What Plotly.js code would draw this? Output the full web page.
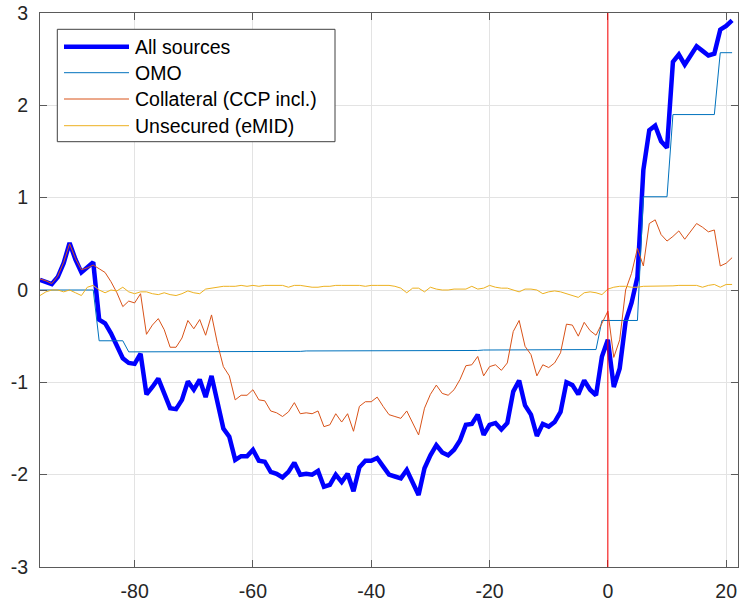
<!DOCTYPE html>
<html>
<head>
<meta charset="utf-8">
<script src="https://cdn.plot.ly/plotly-3.0.1.min.js"></script>
<style>
  html, body { margin: 0; padding: 0; background: #fff; }
  #chart { width: 740px; height: 605px; }
</style>
</head>
<body>
<div id="chart"></div>
<script>
// Days relative to the event (day 0), one observation per day
const days = [];
for (let d = -96; d <= 21; d++) days.push(d);

// Series names, in drawing / legend order
const seriesNames = ['All sources', 'OMO', 'Collateral (CCP incl.)', 'Unsecured (eMID)'];

const allSources = [
  0.11, 0.09, 0.065, 0.14, 0.29, 0.51, 0.33, 0.19, 0.25, 0.30,
  -0.32, -0.36, -0.47, -0.60, -0.74, -0.79, -0.80, -0.69, -1.13, -1.05,
  -0.96, -1.12, -1.28, -1.29, -1.19, -0.99, -1.08, -0.97, -1.16, -0.93,
  -1.23, -1.50, -1.59, -1.84, -1.80, -1.80, -1.73, -1.85, -1.86, -1.97,
  -1.99, -2.03, -1.97, -1.87, -2.00, -1.99, -2.00, -1.96, -2.13, -2.11,
  -2.00, -2.08, -1.99, -2.18, -1.92, -1.85, -1.85, -1.82, -1.91, -2.00,
  -2.02, -2.04, -1.95, -2.08, -2.22, -1.93, -1.79, -1.68, -1.76, -1.79,
  -1.73, -1.63, -1.46, -1.45, -1.35, -1.57, -1.46, -1.44, -1.51, -1.44,
  -1.10, -0.98, -1.25, -1.35, -1.58, -1.45, -1.48, -1.43, -1.32, -1.00,
  -1.03, -1.13, -0.98, -1.08, -1.14, -0.72, -0.54, -1.05, -0.85, -0.34,
  -0.14, 0.14, 1.30, 1.73, 1.78, 1.61, 1.54, 2.47, 2.55, 2.44,
  2.53, 2.64, 2.59, 2.54, 2.56, 2.82, 2.86, 2.92
];

const omo = [
  0, 0, 0, 0, 0, 0, 0, 0, 0, 0,
  -0.55, -0.55, -0.55, -0.55, -0.55,
  -0.67, -0.67, -0.67, -0.67, -0.67, -0.67, -0.67, -0.67, -0.67, -0.67,
  -0.67, -0.67, -0.67, -0.67, -0.67, -0.67, -0.67, -0.67, -0.67, -0.67,
  -0.67, -0.667, -0.665, -0.665, -0.665, -0.665, -0.665, -0.665, -0.665, -0.665,
  -0.66, -0.66, -0.66, -0.66, -0.66, -0.66, -0.66, -0.66, -0.66, -0.66,
  -0.66, -0.66, -0.66, -0.66, -0.66, -0.66, -0.66, -0.66, -0.66, -0.66,
  -0.655, -0.655, -0.655, -0.655, -0.655, -0.655, -0.655, -0.655, -0.655, -0.655,
  -0.65, -0.65, -0.65, -0.65, -0.65, -0.65, -0.65, -0.65, -0.65, -0.65,
  -0.645, -0.645, -0.645, -0.645, -0.645, -0.645, -0.645, -0.645, -0.645, -0.645,
  -0.33, -0.33, -0.33, -0.33, -0.33, -0.33, -0.33,
  1.01, 1.01, 1.01, 1.01, 1.01,
  1.90, 1.90, 1.90, 1.90, 1.90, 1.90, 1.90, 1.90,
  2.57, 2.57, 2.57
];

const collateral = [
  0.12, 0.10, 0.07, 0.15, 0.30, 0.50, 0.34, 0.22, 0.24, 0.27,
  0.23, 0.19, 0.09, -0.03, -0.18, -0.12, -0.14, -0.04, -0.48, -0.38,
  -0.31, -0.43, -0.62, -0.62, -0.52, -0.33, -0.42, -0.32, -0.49, -0.27,
  -0.58, -0.83, -0.93, -1.19, -1.14, -1.14, -1.08, -1.19, -1.20, -1.31,
  -1.33, -1.37, -1.32, -1.22, -1.34, -1.33, -1.34, -1.31, -1.48, -1.46,
  -1.34, -1.43, -1.34, -1.53, -1.26, -1.21, -1.21, -1.16, -1.26, -1.35,
  -1.37, -1.39, -1.31, -1.44, -1.57, -1.28, -1.13, -1.03, -1.12, -1.14,
  -1.08, -0.97, -0.82, -0.81, -0.72, -0.93, -0.83, -0.81, -0.87, -0.79,
  -0.45, -0.33, -0.61, -0.70, -0.93, -0.81, -0.84, -0.79, -0.68, -0.37,
  -0.38, -0.50, -0.35, -0.44, -0.49, -0.36, -0.23, -0.73, -0.54, 0.00,
  0.18, 0.45, 0.26, 0.72, 0.76, 0.60, 0.53, 0.58, 0.64, 0.55,
  0.63, 0.72, 0.68, 0.63, 0.65, 0.26, 0.29, 0.35
];

const unsecured = [
  -0.06, -0.02, 0.00, 0.00, -0.02, 0.00, -0.03, -0.06, 0.03, 0.05,
  0.00, -0.03, 0.00, -0.01, 0.03, -0.02, -0.04, -0.02, -0.02, -0.04,
  -0.05, -0.03, -0.05, -0.06, -0.04, -0.01, -0.03, -0.04, 0.01, 0.02,
  0.025, 0.04, 0.04, 0.04, 0.05, 0.04, 0.05, 0.04, 0.05, 0.05,
  0.05, 0.05, 0.03, 0.05, 0.05, 0.04, 0.03, 0.03, 0.04, 0.04,
  0.05, 0.05, 0.05, 0.05, 0.05, 0.04, 0.05, 0.05, 0.05, 0.05,
  0.04, 0.02, -0.03, 0.02, 0.02, -0.02, 0.03, 0.01, 0.00, 0.00,
  0.01, 0.01, 0.01, 0.04, 0.01, 0.02, 0.05, 0.03, 0.02, 0.02,
  0.00, -0.02, 0.01, 0.01, 0.00, -0.04, -0.02, -0.01, -0.02, -0.04,
  -0.06, -0.08, -0.03, -0.02, -0.03, -0.05, 0.01, 0.03, 0.04, 0.04,
  0.03, 0.03, 0.04, 0.04, 0.04, 0.04, 0.04, 0.045, 0.05, 0.05,
  0.05, 0.05, 0.03, 0.05, 0.06, 0.03, 0.06, 0.06
];

// Axis ticks
const xTickVals = [-80, -60, -40, -20, 0, 20];
const xTickText = ['-80', '-60', '-40', '-20', '0', '20'];
const yTickVals = [-3, -2, -1, 0, 1, 2, 3];
const yTickText = ['-3', '-2', '-1', '0', '1', '2', '3'];

const seriesValues = [allSources, omo, collateral, unsecured];
const seriesColors = ['#0000FF', '#0072BD', '#D95319', '#EDB120'];
const seriesWidths = [4.5, 1, 1, 1];

const FONT = 'Liberation Sans, Arial, Helvetica, sans-serif';
const AXIS_COLOR = '#5A5A5A';

const traces = seriesValues.map((vals, i) => ({
  type: 'scatter',
  mode: 'lines',
  x: days,
  y: vals,
  name: seriesNames[i],
  line: { color: seriesColors[i], width: seriesWidths[i] },
  showlegend: false,
  hoverinfo: 'skip'
}));

// Plot area geometry (px) used to place the boxed legend
const W = 740, H = 605;
const M = { l: 40, r: 2, t: 13, b: 38 };
const plotW = W - M.l - M.r, plotH = H - M.t - M.b;
const px = x => (x - M.l) / plotW;
const py = y => (H - M.b - y) / plotH;

const legendRows = [46.7, 72.7, 99, 125.7];
const shapes = [
  // vertical marker at day 0
  { type: 'line', xref: 'x', yref: 'paper', x0: 0, x1: 0, y0: 0, y1: 1,
    line: { color: '#FF0000', width: 1 }, layer: 'above' },
  // legend box
  { type: 'rect', xref: 'paper', yref: 'paper',
    x0: px(57.3), x1: px(335), y0: py(141.7), y1: py(29.3),
    line: { color: '#404040', width: 1 }, fillcolor: '#FFFFFF', layer: 'above' }
];
const annotations = [];
seriesNames.forEach((name, i) => {
  shapes.push({ type: 'line', xref: 'paper', yref: 'paper',
    x0: px(64), x1: px(129), y0: py(legendRows[i]), y1: py(legendRows[i]),
    line: { color: seriesColors[i], width: seriesWidths[i] }, layer: 'above' });
  annotations.push({ xref: 'paper', yref: 'paper', x: px(133), y: py(legendRows[i]),
    xanchor: 'left', yanchor: 'middle', showarrow: false, text: name,
    font: { family: FONT, size: 19.5, color: '#000000' } });
});

const axisCommon = {
  showgrid: true,
  gridcolor: '#E3E3E3',
  gridwidth: 1,
  zeroline: false,
  showline: true,
  linecolor: AXIS_COLOR,
  linewidth: 1,
  mirror: 'ticks',
  ticks: 'inside',
  ticklen: 7,
  tickwidth: 1,
  tickcolor: AXIS_COLOR,
  tickmode: 'array',
  tickfont: { family: FONT, size: 19.5, color: '#262626' }
};

const layout = {
  width: W,
  height: H,
  margin: M,
  paper_bgcolor: '#FFFFFF',
  plot_bgcolor: '#FFFFFF',
  showlegend: false,
  xaxis: Object.assign({}, axisCommon, {
    range: [-96, 22], tickvals: xTickVals, ticktext: xTickText, ticklabelstandoff: 7
  }),
  yaxis: Object.assign({}, axisCommon, {
    range: [-3, 3], tickvals: yTickVals, ticktext: yTickText, ticklabelstandoff: 7
  }),
  shapes: shapes,
  annotations: annotations
};

Plotly.newPlot('chart', traces, layout, { staticPlot: true, displayModeBar: false });
</script>
</body>
</html>
